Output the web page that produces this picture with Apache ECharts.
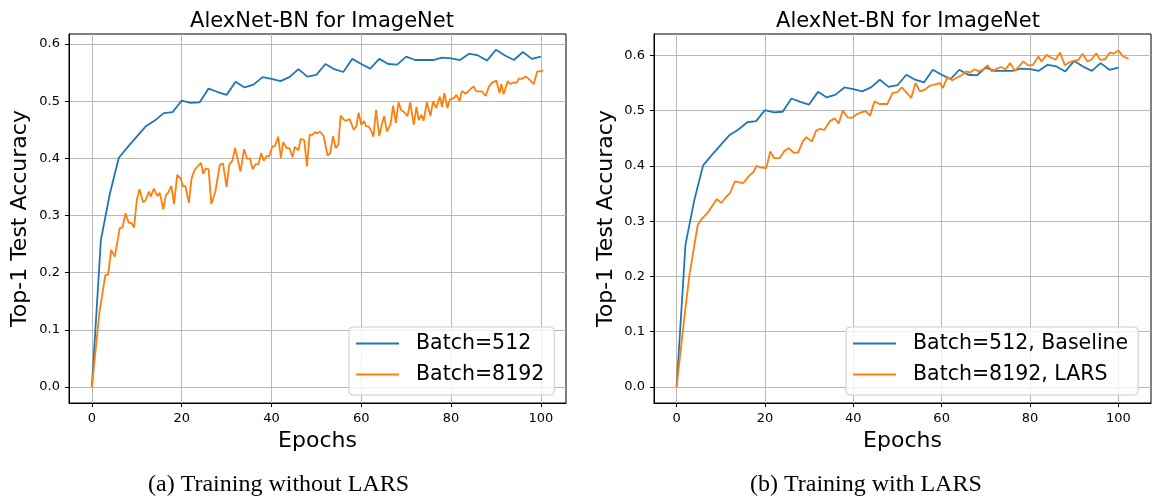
<!DOCTYPE html>
<html>
<head>
<meta charset="utf-8">
<script src="https://cdn.jsdelivr.net/npm/echarts@6/dist/echarts.min.js"></script>
<style>
html,body{margin:0;padding:0;background:#fff;}
#c{width:1152px;height:500px;}
</style>
</head>
<body>
<div id="c"></div>
<script>
// ---- data ----
const chartTitles = ['AlexNet-BN for ImageNet', 'AlexNet-BN for ImageNet'];
const captions = ['(a) Training without LARS', '(b) Training with LARS'];
const xTicks = [0, 20, 40, 60, 80, 100];
const yTicks = [0.0, 0.1, 0.2, 0.3, 0.4, 0.5, 0.6];
const legendLeft = ['Batch=512', 'Batch=8192'];
const legendRight = ['Batch=512, Baseline', 'Batch=8192, LARS'];

const baseEpochs = [0,2,4,6,8,10,12,14,16,18,20,22,24,26,28,30,32,34,36,38,40,42,44,46,48,50,
  52,54,56,58,60,62,64,66,68,70,72,74,76,78,80,82,84,86,88,90,92,94,96,98,100];
const baseAcc = [0.0,0.257,0.338,0.401,0.42,0.438,0.456,0.466,0.479,0.481,0.501,0.497,0.498,0.522,
  0.516,0.511,0.534,0.524,0.529,0.542,0.539,0.535,0.542,0.556,0.543,0.546,0.565,0.556,0.551,0.574,
  0.565,0.557,0.574,0.565,0.564,0.578,0.572,0.572,0.572,0.576,0.575,0.572,0.583,0.580,0.571,0.590,
  0.580,0.572,0.586,0.574,0.578];

const noLarsEpochs = [0,1.7,3.0,3.6,4.3,5.1,6.2,6.8,7.5,8.2,8.8,9.4,10.0,10.6,11.4,12.0,12.7,13.1,13.8,
  14.6,15.1,15.9,16.5,17.0,17.7,18.3,19.0,19.8,20.3,20.8,21.6,22.2,22.9,23.7,24.3,24.8,25.3,26.0,26.6,
  27.5,28.5,29.2,30.0,30.6,31.3,31.9,33.1,33.9,34.6,35.2,35.8,36.5,37.1,37.7,38.3,38.9,39.5,40.2,40.8,
  41.5,42.1,42.6,43.4,44.0,44.7,45.2,46.0,46.5,47.3,47.9,48.5,49.1,49.7,50.2,50.8,51.6,52.5,53.1,53.7,
  54.3,54.9,55.4,56.2,56.8,57.4,58.3,58.9,59.4,60.0,60.6,61.1,61.6,62.1,62.7,63.3,64.0,64.6,65.1,65.7,
  66.5,67.1,67.7,68.3,68.9,69.4,70.3,70.9,71.7,72.3,72.8,73.4,73.9,74.6,75.4,76.0,76.7,77.5,78.0,78.5,
  79.2,79.8,80.6,81.2,81.9,82.4,83.2,83.8,85.0,85.6,86.9,87.7,88.4,89.1,90.1,90.8,91.2,91.7,92.6,93.2,
  94.0,94.6,95.1,95.8,96.6,97.3,98.4,99.2,99.9,100.5];
const noLarsAcc = [0.0,0.132,0.196,0.196,0.240,0.228,0.278,0.279,0.304,0.287,0.287,0.279,0.327,0.346,
  0.323,0.327,0.342,0.333,0.347,0.334,0.340,0.311,0.336,0.340,0.352,0.320,0.371,0.364,0.351,0.352,0.322,
  0.365,0.380,0.387,0.392,0.373,0.382,0.381,0.320,0.342,0.389,0.391,0.350,0.389,0.396,0.418,0.377,0.416,
  0.399,0.400,0.381,0.390,0.390,0.409,0.396,0.404,0.404,0.421,0.422,0.438,0.401,0.428,0.418,0.418,0.402,
  0.420,0.414,0.434,0.432,0.386,0.441,0.441,0.446,0.444,0.447,0.439,0.405,0.409,0.439,0.418,0.424,0.475,
  0.467,0.466,0.469,0.450,0.456,0.480,0.459,0.465,0.456,0.456,0.450,0.438,0.485,0.439,0.460,0.474,0.447,
  0.459,0.492,0.462,0.498,0.484,0.482,0.474,0.498,0.459,0.490,0.467,0.476,0.466,0.498,0.474,0.500,0.488,
  0.508,0.490,0.514,0.488,0.504,0.505,0.511,0.500,0.518,0.513,0.517,0.526,0.517,0.517,0.509,0.525,0.532,
  0.536,0.514,0.530,0.512,0.535,0.530,0.533,0.532,0.540,0.539,0.543,0.539,0.530,0.552,0.552,0.554];

const larsEpochs = [0,1.7,2.9,4.8,5.9,7.0,9.1,10.1,11.0,12.1,13.2,15.1,16.3,17.4,18.1,19.1,20.3,21.2,
  22.1,23.3,24.4,25.4,26.5,27.5,28.6,29.4,30.6,31.6,32.5,33.4,34.7,35.8,36.7,37.6,38.7,39.7,40.7,41.8,
  42.8,43.8,44.8,45.9,47.7,48.9,49.9,51.0,52.1,53.1,54.1,55.1,56.2,57.3,58.4,59.6,60.3,61.3,62.4,63.3,
  64.5,65.6,66.4,67.5,68.5,69.4,70.4,71.4,72.5,73.5,74.5,75.5,76.6,77.6,78.5,79.6,80.7,81.9,82.6,83.8,
  84.5,85.8,86.8,87.9,89.1,90.2,90.9,91.9,93.0,94.0,95.0,95.9,97.0,98.1,98.9,100.0,101.1,102.3];
const larsAcc = [0.0,0.122,0.203,0.294,0.306,0.315,0.340,0.333,0.342,0.351,0.372,0.369,0.381,0.389,
  0.400,0.397,0.396,0.426,0.414,0.414,0.427,0.432,0.424,0.424,0.445,0.452,0.444,0.464,0.467,0.465,0.481,
  0.486,0.477,0.500,0.488,0.487,0.493,0.497,0.499,0.491,0.517,0.512,0.512,0.532,0.533,0.542,0.532,0.523,
  0.550,0.535,0.538,0.545,0.547,0.550,0.541,0.561,0.555,0.559,0.564,0.571,0.569,0.575,0.571,0.575,0.582,
  0.571,0.576,0.579,0.575,0.586,0.572,0.581,0.589,0.582,0.583,0.598,0.589,0.601,0.597,0.592,0.605,0.582,
  0.588,0.591,0.591,0.603,0.589,0.593,0.604,0.592,0.593,0.605,0.603,0.609,0.598,0.594];

// ---- chart ----
const pair = (xs, ys) => xs.map((x, i) => [x, ys[i]]);
const FONT = 'DejaVu Sans';
const BLUE = '#1f77b4', ORANGE = '#ff7f0e';

function xAxisOpt(gi, min, max) {
  return {
    type: 'value', gridIndex: gi, min: min, max: max, position: 'bottom',
    name: 'Epochs', nameLocation: 'middle', nameGap: 26,
    nameTextStyle: {fontFamily: FONT, fontSize: 22, color: '#000'},
    axisLine: {show: true, onZero: false, lineStyle: {color: '#000', width: 1}},
    axisTick: {show: true, inside: false, length: 4, customValues: xTicks, lineStyle: {color: '#000', width: 1}},
    axisLabel: {show: true, margin: 9, customValues: xTicks, fontFamily: FONT, fontSize: 13, color: '#000'},
    splitLine: {show: true, lineStyle: {color: '#b8b8b8', width: 1}}
  };
}
function yAxisOpt(gi, min, max, gap) {
  return {
    type: 'value', gridIndex: gi, min: min, max: max, position: 'left',
    name: 'Top-1 Test Accuracy', nameLocation: 'middle', nameGap: gap, nameRotate: 90,
    nameTextStyle: {fontFamily: FONT, fontSize: 22, color: '#000'},
    axisLine: {show: true, onZero: false, lineStyle: {color: '#000', width: 1}},
    axisTick: {show: true, inside: false, length: 4, customValues: yTicks, lineStyle: {color: '#000', width: 1}},
    axisLabel: {show: true, margin: 9, customValues: yTicks, fontFamily: FONT, fontSize: 13, color: '#000',
      formatter: v => v.toFixed(1)},
    splitLine: {show: true, lineStyle: {color: '#b8b8b8', width: 1}}
  };
}
function legendOpt(names, left) {
  return {
    data: names, orient: 'vertical', left: left, top: 327,
    icon: 'rect', itemWidth: 43, itemHeight: 2, itemGap: 10,
    padding: [6, 10, 10, 7],
    backgroundColor: 'rgba(255,255,255,0.8)', borderColor: '#cccccc', borderWidth: 1, borderRadius: 4,
    textStyle: {fontFamily: FONT, fontSize: 20.5, color: '#000', lineHeight: 20, padding: [0, 0, 0, 12]},
    z: 10
  };
}
function lineSeries(name, data, color, xi) {
  return {
    name: name, type: 'line', xAxisIndex: xi, yAxisIndex: xi, data: data,
    showSymbol: false, symbol: 'none', animation: false,
    lineStyle: {color: color, width: 1.8}, itemStyle: {color: color}
  };
}

const chart = echarts.init(document.getElementById('c'), null, {renderer: 'canvas'});
chart.setOption({
  backgroundColor: '#fff',
  animation: false,
  title: [
    {text: chartTitles[0], left: 317, top: 6, textAlign: 'center',
      textStyle: {fontFamily: FONT, fontSize: 21, fontWeight: 'normal', color: '#000'}},
    {text: chartTitles[1], left: 903, top: 6, textAlign: 'center',
      textStyle: {fontFamily: FONT, fontSize: 21, fontWeight: 'normal', color: '#000'}}
  ],
  grid: [
    {left: 69, top: 34, width: 497, height: 369, show: true, borderColor: '#000', borderWidth: 1, backgroundColor: 'transparent'},
    {left: 654, top: 34, width: 497, height: 369, show: true, borderColor: '#000', borderWidth: 1, backgroundColor: 'transparent'}
  ],
  xAxis: [xAxisOpt(0, -5.1, 105.6), xAxisOpt(1, -5.12, 107.4)],
  yAxis: [yAxisOpt(0, -0.028, 0.6175, 38), yAxisOpt(1, -0.029, 0.6387, 37)],
  legend: [legendOpt(legendLeft, 349), legendOpt(legendRight, 846)],
  series: [
    lineSeries(legendLeft[0], pair(baseEpochs, baseAcc), BLUE, 0),
    lineSeries(legendLeft[1], pair(noLarsEpochs, noLarsAcc), ORANGE, 0),
    lineSeries(legendRight[0], pair(baseEpochs, baseAcc), BLUE, 1),
    lineSeries(legendRight[1], pair(larsEpochs, larsAcc), ORANGE, 1)
  ],
  graphic: [
    {type: 'text', left: 148, top: 473, style: {text: captions[0], font: '24px "Liberation Serif"', fill: '#000'}},
    {type: 'text', left: 750, top: 473, style: {text: captions[1], font: '24px "Liberation Serif"', fill: '#000'}}
  ]
});
</script>
</body>
</html>
